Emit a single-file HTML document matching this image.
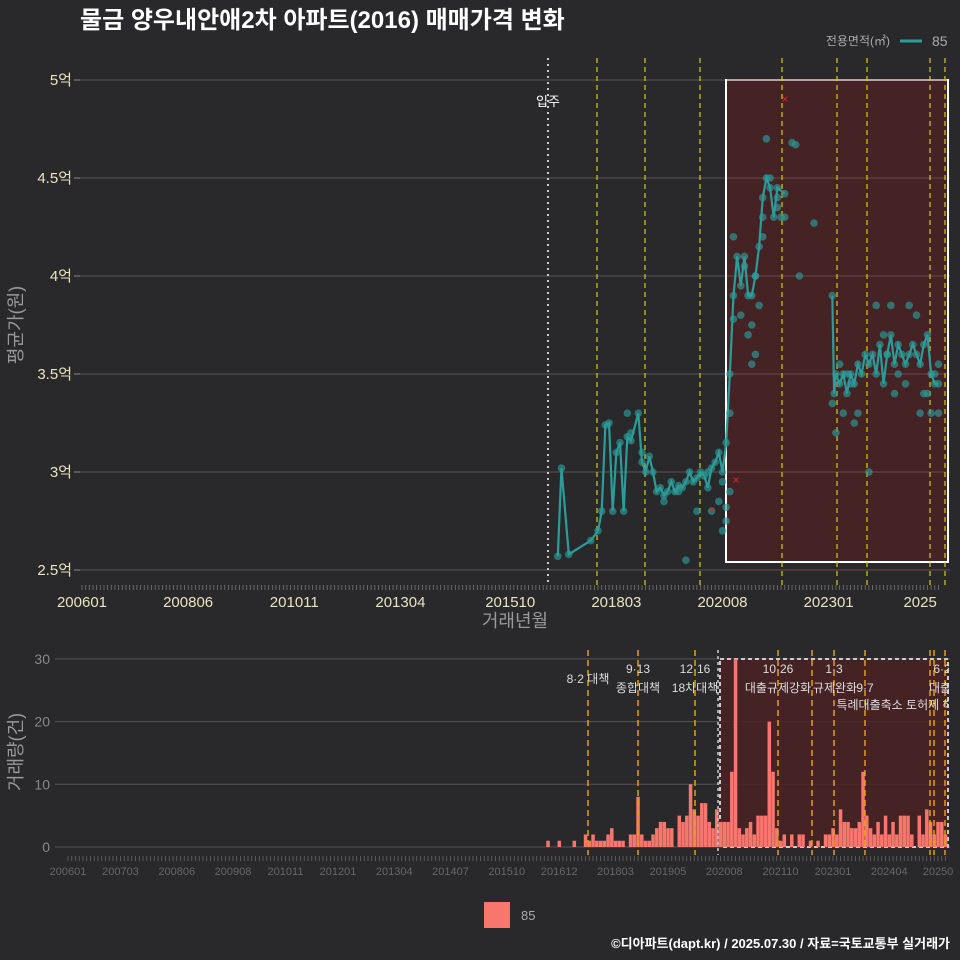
<!DOCTYPE html>
<html><head><meta charset="utf-8">
<style>
html,body{margin:0;padding:0;background:#29292b;width:960px;height:960px;overflow:hidden;font-family:"Liberation Sans","Noto Sans CJK KR",sans-serif;}
svg{display:block}
svg text{font-family:"Liberation Sans","Noto Sans CJK KR",sans-serif;}
</style></head>
<body>
<svg id="c" width="960" height="960" xmlns="http://www.w3.org/2000/svg">
<defs><clipPath id="annClip"><rect x="0" y="640" width="949" height="240"/></clipPath></defs>
<rect width="960" height="960" fill="#29292b"/>
<text x="80" y="28" fill="#fff" font-size="24" font-weight="bold">물금 양우내안애2차 아파트(2016) 매매가격 변화</text>
<g>
<text x="890" y="45" fill="#aaa" font-size="12" text-anchor="end">전용면적(㎡)</text>
<line x1="900" y1="41" x2="922" y2="41" stroke="#2a9d9a" stroke-width="3"/>
<text x="932" y="46" fill="#aaa" font-size="14">85</text>
</g>
<g id="topG"></g>
<g id="botG"></g>
<g id="annG" clip-path="url(#annClip)"></g>
<g>
<rect x="484" y="902" width="26" height="26" fill="#f8766d"/>
<text x="521" y="920" fill="#aaa" font-size="13">85</text>
</g>
<text x="950" y="948" fill="#fff" font-size="13" font-weight="bold" text-anchor="end">©디아파트(dapt.kr) / 2025.07.30 / 자료=국토교통부 실거래가</text>
</svg>
<script>
// ---- data ----
const xTickLabels=["200601","200806","201011","201304","201510","201803","202008","202301","2025"];
const xTickMonths=[0,29,58,87,117,146,175,204,229];
const botTickLabels=["200601","200703","200806","200908","201011","201201","201304","201407","201510","201612","201803","201905","202008","202110","202301","202404","20250"];
const botTickMonths=[0,14,29,44,58,72,87,102,117,131,146,160,175,190,204,219,232];
const yTicks=[2.5,3,3.5,4,4.5,5];
const yTickLabels=["2.5억","3억","3.5억","4억","4.5억","5억"];
const lineMonths=[130,131,133,139,141,142,143,144,145,146,147,148,149,150,152,153,154,155,156,157,158,159,160,161,162,163,164,165,166,167,168,169,170,171,172,173,174,175,176,177,178,179,180,181,182,183,184,185,186,187,188,189,190,192];
const linePrices=[2.57,3.02,2.58,2.65,2.7,2.8,3.24,3.25,2.8,3.1,3.15,2.8,3.18,3.16,3.3,3.05,3.0,3.08,3.0,2.9,2.92,2.88,2.9,2.95,2.9,2.93,2.92,2.95,3.0,2.95,2.97,3.0,2.98,2.92,3.02,3.05,3.1,3.0,3.15,3.5,3.9,4.1,3.95,4.1,3.9,3.9,4.0,4.15,4.4,4.5,4.45,4.3,4.45,4.42];
const line2Months=[205,205.5,206,207,208,209,210,211,212,213,214,215,216,217,218,219,220,221,222,223,224,225,226,227,228,229,230,231,232,233,234];
const line2Prices=[3.9,3.4,3.5,3.45,3.5,3.4,3.5,3.45,3.55,3.5,3.6,3.55,3.6,3.5,3.65,3.45,3.6,3.7,3.55,3.65,3.6,3.55,3.6,3.65,3.6,3.55,3.65,3.7,3.5,3.45,3.45];
const extraMonths=[149,150,153,159,163,165,168,171,174,175,176,177,177,178,178,180,181,182,183,184,185,186,187,188,190,191,192,194,195,196,200,205,206,207,208,209,210,212,215,217,219,220,221,222,223,225,226,228,229,230,231,232,233,234,234,172,175,176,184,186,190,183,211];
const extraPrices=[3.3,3.2,3.1,2.85,2.9,2.55,2.8,3.0,2.85,2.7,2.75,2.9,3.3,3.78,4.2,3.8,4.05,3.7,3.75,3.6,3.85,4.3,4.7,4.5,4.35,4.3,4.3,4.68,4.67,4.0,4.27,3.35,3.2,3.55,3.3,3.5,3.45,3.3,3.0,3.85,3.7,3.6,3.85,3.4,3.5,3.45,3.85,3.8,3.3,3.4,3.4,3.3,3.5,3.3,3.55,2.8,2.95,2.82,4.0,4.2,4.4,3.55,3.25];
const barStart=128;
const barCounts=[1,0,0,1,0,0,0,1,0,0,2,1,2,1,1,1,2,3,1,1,1,0,2,2,8,2,1,1,2,3,4,4,3,3,0,5,4,5,10,6,5,7,7,4,3,6,4,4,4,12,30,3,2,3,4,2,5,5,5,20,12,3,1,2,0,2,0,2,2,0,1,0,1,0,2,2,3,2,6,4,4,3,3,4,12,5,3,2,4,2,5,2,4,2,5,5,5,2,0,5,2,6,4,2,4,4,2];
const botYTicks=[0,10,20,30];
// ---- scales ----
const xT=m=>82+m*3.66, yT=p=>570-(p-2.5)*196;
const xB=m=>68+m*3.75, yB=v=>847-v*6.27;
const NS="http://www.w3.org/2000/svg";
function mk(tag,attrs,parent,txt){const e=document.createElementNS(NS,tag);for(const k in attrs)e.setAttribute(k,attrs[k]);if(txt!==undefined)e.textContent=txt;parent.appendChild(e);return e;}
const topG=document.getElementById('topG'), botG=document.getElementById('botG'), annG=document.getElementById('annG');
yTicks.forEach((t,i)=>{
 const g=mk('line',{x1:80,x2:950,y1:yT(t),y2:yT(t),stroke:'#555','stroke-width':1},topG);
 
 
 const l=mk('text',{x:72,y:yT(t)+5,fill:'#e8e4c0','font-size':15,'text-anchor':'end'},topG,yTickLabels[i]);
 
 
 mk('line',{x1:74,x2:80,y1:yT(t),y2:yT(t),stroke:'#888'},topG);
});
const hb=mk('rect',{x:726,y:80,width:222,height:482,fill:'#4a2224','fill-opacity':0.85,stroke:'#fff','stroke-width':2},topG);


yTicks.forEach(t=>{mk('line',{x1:727,x2:947,y1:yT(t),y2:yT(t),stroke:'#6a4a4b'},topG);});
[597,645,700,782,837,867,930,945].forEach(x=>{
 const l=mk('line',{x1:x,x2:x,y1:58,y2:585,stroke:'#d4d000','stroke-dasharray':'5,4','stroke-width':1.2},topG);
 
 
});
const mv=mk('line',{x1:548,x2:548,y1:58,y2:585,stroke:'#ccc','stroke-dasharray':'2,4','stroke-width':2},topG);


const mvt=mk('text',{x:548,y:106,fill:'#fff','font-size':13,'text-anchor':'middle'},topG,'입주');


const pts=[];
lineMonths.forEach((m,i)=>pts.push([m,linePrices[i]]));
line2Months.forEach((m,i)=>pts.push([m,line2Prices[i]]));
extraMonths.forEach((m,i)=>pts.push([m,extraPrices[i]]));
pts.forEach(p=>{
 const c=mk('circle',{cx:xT(p[0]),cy:yT(p[1]),r:3.8,fill:'#2a9d9a','fill-opacity':0.65},topG);
 
 
});
function poly(ms,ps){const l=mk('polyline',{points:ms.map((m,i)=>xT(m)+','+yT(ps[i])).join(' '),fill:'none',stroke:'#2a9d9a','stroke-width':2.2},topG);
 
 }
poly(lineMonths,linePrices);poly(line2Months,line2Prices);
[[785,99],[736,480],[712,510]].forEach(p=>mk('text',{x:p[0],y:p[1]+4,fill:'#e02020','font-size':12,'text-anchor':'middle'},topG,'×'));
for(let m=0;m<=234;m+=1){mk('line',{x1:xT(m),x2:xT(m),y1:585,y2:590,stroke:'#777','stroke-width':0.8},topG);}
xTickLabels.forEach((t,i)=>{
 const l=mk('text',{x:xT(xTickMonths[i]),y:607,fill:'#e8e4c0','font-size':15,'text-anchor':'middle'},topG,t);
 
 
});
const xt=mk('text',{x:515,y:627,fill:'#999','font-size':18,'text-anchor':'middle'},topG,'거래년월');


const yt=mk('text',{x:22,y:325,fill:'#999','font-size':18,'text-anchor':'middle',transform:'rotate(-90 22 325)'},topG,'평균가(원)');


botYTicks.forEach(t=>{
 const g=mk('line',{x1:55,x2:950,y1:yB(t),y2:yB(t),stroke:'#555'},botG);
 
 
 mk('text',{x:50,y:yB(t)+5,fill:'#888','font-size':14,'text-anchor':'end'},botG,String(t));
});
const bb=mk('rect',{x:720,y:659,width:228,height:188,fill:'#4a2224','fill-opacity':0.85,stroke:'#ccc','stroke-dasharray':'4,3','stroke-width':2},botG);


barCounts.forEach((v,i)=>{
 if(!v)return;
 const m=barStart+i;
 const r=mk('rect',{x:xB(m)-1.7,y:yB(v),width:3.5,height:v*6.27,fill:'#f8766d'},botG);
 
 
});
[588,638,695,778,812,834,865,930,934,945].forEach(x=>{
 const l=mk('line',{x1:x,x2:x,y1:650,y2:855,stroke:'#e8a000','stroke-dasharray':'6,4','stroke-width':1.5},botG);
 
 
});
mk('line',{x1:718,x2:718,y1:650,y2:855,stroke:'#ccc','stroke-dasharray':'3,3','stroke-width':1.5},botG);
const ann=[[588,683,'8·2 대책'],[638,673,'9·13'],[638,692,'종합대책'],[695,673,'12·16'],[695,692,'18차대책'],[778,673,'10·26'],[778,692,'대출규제강화'],[834,673,'1·3'],[835,692,'규제완화'],[865,692,'9·7'],[895,709,'특례대출축소 토허제 해'],[942,673,'6·2'],[940,692,'대출']];
ann.forEach(a=>{
 const t=mk('text',{x:a[0],y:a[1],fill:'#ddd','font-size':12,'text-anchor':'middle'},annG,a[2]);
 
 
});
for(let m=0;m<=234;m++){mk('line',{x1:xB(m),x2:xB(m),y1:856,y2:861,stroke:'#666','stroke-width':0.8},botG);}
botTickLabels.forEach((t,i)=>{
 const l=mk('text',{x:xB(botTickMonths[i]),y:875,fill:'#666','font-size':11,'text-anchor':'middle'},botG,t);
 
 
});
const yb=mk('text',{x:22,y:752,fill:'#999','font-size':18,'text-anchor':'middle',transform:'rotate(-90 22 752)'},botG,'거래량(건)');


</script>
</body></html>
